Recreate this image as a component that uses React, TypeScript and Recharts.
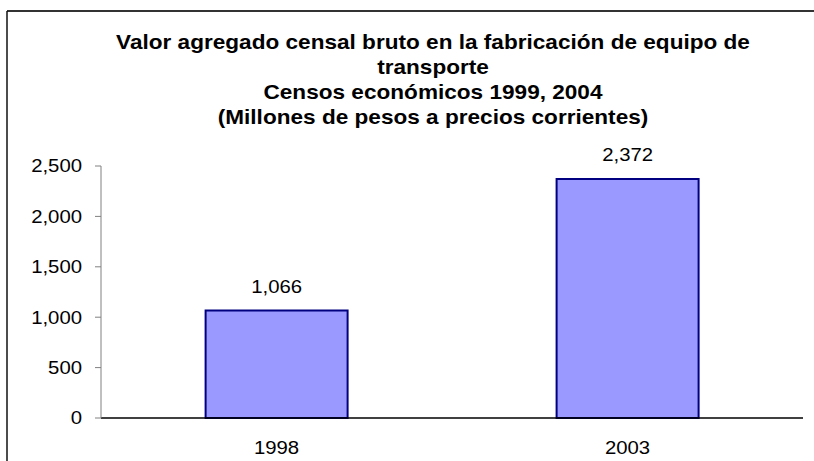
import React from "react";
import { BarChart, Bar, XAxis, YAxis, LabelList, Customized } from "recharts";

const categories = ["1998", "2003"];
const values = [1066, 2372];
const yTicks = [0, 500, 1000, 1500, 2000, 2500];
const titleLines = [
  "Valor agregado censal bruto en la fabricación de equipo de",
  "transporte",
  "Censos económicos 1999, 2004",
  "(Millones de pesos a precios corrientes)",
];

const data = categories.map((c, i) => ({ name: c, value: values[i], pos: i + 0.5 }));

const fmt = (v: number) => v.toLocaleString("en-US");

const FONT = "'Liberation Sans', Arial, sans-serif";
const SX = 1.13;
const AXFS = 18;

function Decor() {
  return (
    <g>
      <line x1={7} y1={11} x2={814} y2={11} stroke="#333" strokeWidth={2} />
      <line x1={7} y1={11} x2={7} y2={461} stroke="#111" strokeWidth={1.5} />
      {titleLines.map((t, i) => (
        <g key={i} transform={`translate(433, ${48.5 + i * 25.3})`}>
          <text
            transform={`scale(${SX},1)`}
            x={0}
            y={0}
            textAnchor="middle"
            fontFamily={FONT}
            fontWeight="bold"
            fontSize={20}
            fill="#000"
          >
            {t}
          </text>
        </g>
      ))}
    </g>
  );
}

function YTick(props: any) {
  const { x, y, payload } = props;
  return (
    <g transform={`translate(${x},${y})`}>
      <text transform={`scale(${SX},1)`} textAnchor="end" dy="0.36em" fontFamily={FONT} fontSize={AXFS} fill="#000">
        {fmt(payload.value)}
      </text>
    </g>
  );
}

function XTick(props: any) {
  const { x, y, payload } = props;
  return (
    <g transform={`translate(${x},${y + 36})`}>
      <text transform={`scale(${SX},1)`} textAnchor="middle" fontFamily={FONT} fontSize={AXFS} fill="#000">
        {payload.value}
      </text>
    </g>
  );
}

function ValueLabel(props: any) {
  const { x, y, width, value } = props;
  return (
    <g transform={`translate(${x + width / 2},${y - 18})`}>
      <text transform={`scale(${SX},1)`} textAnchor="middle" fontFamily={FONT} fontSize={AXFS} fill="#000">
        {fmt(Number(value))}
      </text>
    </g>
  );
}

export default function App() {
  return (
    <div style={{ position: "absolute", left: 0, top: 0, width: 814, height: 461, background: "#fff" }}>
      <BarChart
        width={814}
        height={461}
        data={data}
        margin={{ top: 166, right: 11, bottom: 13, left: 41 }}
        barCategoryGap="29.8%"
      >
        <Customized component={Decor} />
        <XAxis
          dataKey="pos"
          xAxisId="num"
          type="number"
          domain={[0, 2]}
          ticks={[0, 1, 2]}
          tick={false}
          tickSize={6}
          axisLine={false}
          tickLine={{ stroke: "#808080" }}
          height={0}
          orientation="bottom"
        />
        <XAxis
          dataKey="name"
          xAxisId="cat"
          tickLine={false}
          tickSize={0}
          tickMargin={0}
          height={30}
          axisLine={{ stroke: "#000", strokeWidth: 1.5 }}
          tick={<XTick />}
        />
        <YAxis
          width={60}
          domain={[0, 2500]}
          ticks={yTicks}
          tickSize={6}
          tickMargin={13}
          interval={0}
          axisLine={{ stroke: "#808080" }}
          tickLine={{ stroke: "#808080" }}
          tick={<YTick />}
        />
        <Bar
          dataKey="value"
          xAxisId="cat"
          fill="#9999FF"
          stroke="#000080"
          strokeWidth={2}
          isAnimationActive={false}
        >
          <LabelList dataKey="value" content={<ValueLabel />} />
        </Bar>
      </BarChart>
    </div>
  );
}
